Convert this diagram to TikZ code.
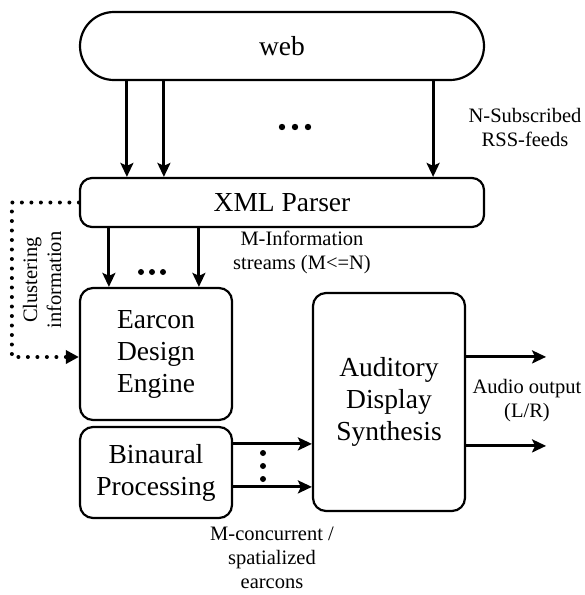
\documentclass[tikz,border=0pt]{standalone}
\usepackage{fontspec}
\setmainfont{LiberationSerif}[Extension=.ttf,UprightFont=*-Regular,BoldFont=*-Bold]
\usetikzlibrary{arrows.meta,positioning}
\newcommand{\bigtxt}{\fontsize{27.5}{32}\selectfont}
\newcommand{\smalltxt}{\fontsize{20.5}{24}\selectfont}

\begin{document}
\begin{tikzpicture}[x=1pt,y=-1pt,
    block/.style={draw,line width=2.2pt,rounded corners=13pt,align=center,font=\bigtxt,inner sep=0pt},
    feed/.style={line width=3pt,-{Stealth[length=14pt,width=13pt,inset=3pt]}},
    cluster/.style={line width=4pt,dash pattern=on 0pt off 9.5pt,line cap=round,-{Triangle[length=13pt,width=13pt]}},
    lbl/.style={align=center,font=\smalltxt}]
    \useasboundingbox (0,0) rectangle (585,595);
    % blocks
    \node[block,rounded corners=34pt,minimum width=404pt,minimum height=68pt] (web) at (282,46) {web};
    \node[block,rounded corners=12pt,minimum width=404pt,minimum height=49pt] (xml) at (282,202.5) {XML Parser};
    \node[block,minimum width=152pt,minimum height=132pt] (earcon) at (156,354) {Earcon\\Design\\Engine};
    \node[block,minimum width=152pt,minimum height=91pt] (binaural) at (156,472.5) {Binaural\\Processing};
    \node[block,minimum width=152pt,minimum height=218pt] (auditory) at (389,402) {Auditory\\Display\\Synthesis};
    % labels
    \node[lbl] (rss) at (525,127) {N-Subscribed\\RSS-feeds};
    \node[lbl] (streams) at (302,252) {M-Information\\streams (M<=N)};
    \node[lbl] (audio) at (527,401) {Audio output\\(L/R)};
    \node[lbl] (spat) at (272,558) {M-concurrent /\\spatialized\\earcons};
    \node[lbl,rotate=90] (clust) at (42,280) {Clustering\\information};
    % feeds
    \draw[feed] ([xshift=48pt]web.south west) -- ([xshift=48pt]xml.north west);
    \draw[feed] ([xshift=85pt]web.south west) -- ([xshift=85pt]xml.north west);
    \draw[feed] ([xshift=-52pt]web.south east) -- ([xshift=-52pt]xml.north east);
    \draw[feed] ([xshift=30pt]xml.south west) -- ([xshift=30pt]earcon.north west);
    \draw[feed] ([xshift=120pt]xml.south west) -- ([xshift=120pt]earcon.north west);
    \coordinate (b1) at ([yshift=-18pt]binaural.north east);
    \coordinate (b2) at ([yshift=-61pt]binaural.north east);
    \draw[feed] (b1) -- (b1 -| auditory.west);
    \draw[feed] (b2) -- (b2 -| auditory.west);
    \coordinate (o1) at ([yshift=-65pt]auditory.north east);
    \coordinate (o2) at ([yshift=-154pt]auditory.north east);
    \coordinate (outL) at ([xshift=80pt]o1);
    \coordinate (outR) at ([xshift=80pt]o2);
    \draw[feed] (o1) -- (outL);
    \draw[feed] (o2) -- (outR);
    \draw[cluster] (xml.west) -- ++(-67,0) |- ([yshift=-3pt]earcon.west);
    % dots
    \foreach \dx in {-13,0,13} \fill (295+\dx,127) circle (3.2pt);
    \foreach \dx in {-11,0,11} \fill (152+\dx,272) circle (3pt);
    \foreach \dy in {-13,0,13} \fill (263,466+\dy) circle (3pt);
\end{tikzpicture}
\end{document}
